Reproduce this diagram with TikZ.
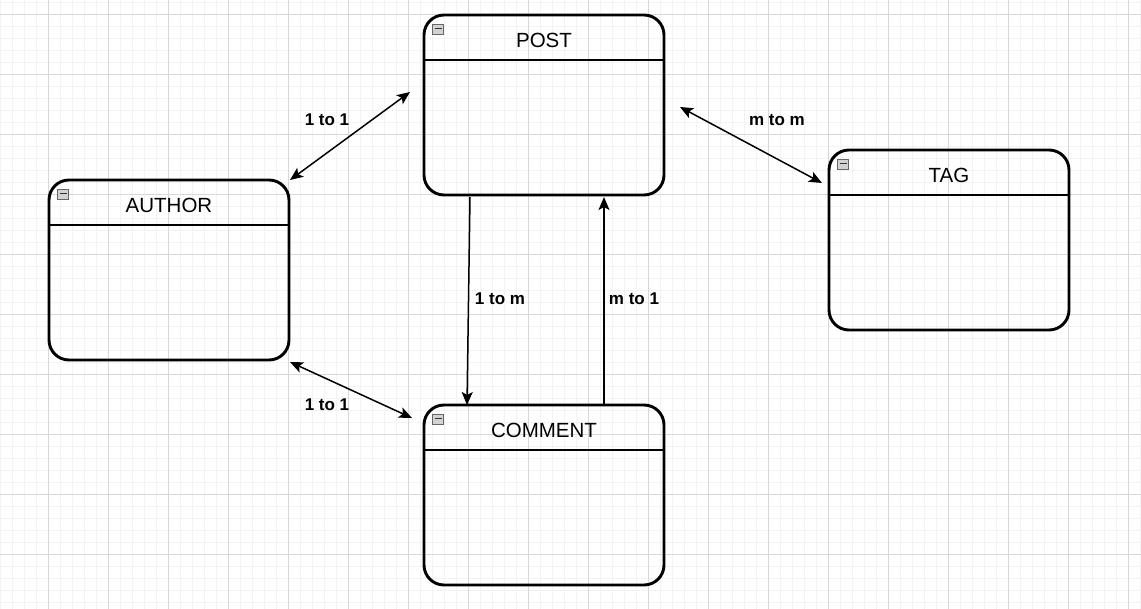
\documentclass[tikz,border=0pt]{standalone}
\usepackage{fontspec}
\setmainfont{Liberation Sans}
\usetikzlibrary{arrows.meta,calc}
\definecolor{minorgrid}{HTML}{F3F3F3}
\definecolor{majorgrid}{HTML}{D8D8D8}
\tikzset{
  entity/.style={draw=black, line width=2.9pt, rounded corners=20pt, minimum width=240pt, minimum height=180pt, inner sep=0pt, fill=none},
  ttl/.style={font=\fontsize{20.5}{24}\selectfont, inner sep=0pt, anchor=center},
  lbl/.style={font=\bfseries\fontsize{17}{20}\selectfont, inner sep=0pt, anchor=center},
  rel/.style={line width=1.5pt, draw=black},
  tip/.style={-{Stealth[length=13pt,width=11pt,inset=3pt]}},
  tips/.style={{Stealth[length=13pt,width=11pt,inset=3pt]}-{Stealth[length=13pt,width=11pt,inset=3pt]}},
  iconbox/.style={draw=gray!80!black, line width=0.7pt, fill=gray!35, minimum width=11pt, minimum height=10pt, inner sep=0pt},
}
\begin{document}
\begin{tikzpicture}[x=1pt,y=-1pt]
\useasboundingbox (0,0) rectangle (1141,609);
\fill[white] (0,0) rectangle (1141,609);
% grid
\foreach \i in {0,...,95} { \draw[minorgrid, line width=0.8pt] (\i*12,0) -- (\i*12,609); }
\foreach \j in {0,...,51} { \draw[minorgrid, line width=0.8pt] (0,2+\j*12) -- (1141,2+\j*12); }
\foreach \i in {0,...,18} { \draw[majorgrid, line width=0.9pt] (48+\i*60,0) -- (48+\i*60,609); }
\foreach \j in {0,...,10} { \draw[majorgrid, line width=0.9pt] (0,14+\j*60) -- (1141,14+\j*60); }

% entities
\node[entity] (post) at (544,105) {};
\node[entity] (author) at (169,270) {};
\node[entity] (tag) at (949,240) {};
\node[entity] (comment) at (544,495) {};

% header lines
\draw[line width=2.9pt] (424,60) -- (664,60);
\draw[line width=2.9pt] (49,225) -- (289,225);
\draw[line width=2.9pt] (829,195) -- (1069,195);
\draw[line width=2.9pt] (424,450) -- (664,450);

% titles
\node[ttl] (postt) at (544,40) {POST};
\node[ttl] (authort) at (169,205) {AUTHOR};
\node[ttl] (tagt) at (949,175) {TAG};
\node[ttl] (commentt) at (544,430) {COMMENT};

% icons
\foreach \n/\x/\y in {pi/438/29, ai/63/194, ti/843/164, ci/438/419} {
  \node[iconbox] (\n) at (\x,\y) {};
  \draw[line width=1pt, black!80] ($(\n.center)+(-3.5,0)$) -- ($(\n.center)+(3.5,0)$);
}

% relation anchors
\coordinate (ap1) at (290,180);
\coordinate (ap2) at (410,92);
\coordinate (ac1) at (290,362);
\coordinate (ac2) at (412,418);
\coordinate (pt1) at (680,107);
\coordinate (pt2) at (822,183);
\coordinate (pc1) at (470,197);
\coordinate (pc2) at (467,405);
\coordinate (cp1) at (604,405);
\coordinate (cp2) at (604,197);

\draw[rel, tips] (ap1) -- (ap2);
\draw[rel, tips] (ac1) -- (ac2);
\draw[rel, tips] (pt1) -- (pt2);
\draw[rel, tip] (pc1) -- (pc2);
\draw[rel, tip] (cp1) -- (cp2);

% labels
\node[lbl] (l1) at (327,120) {1 to 1};
\node[lbl] (l2) at (327,405) {1 to 1};
\node[lbl] (l3) at (777,120) {m to m};
\node[lbl] (l4) at (500,299) {1 to m};
\node[lbl] (l5) at (634,299) {m to 1};
\end{tikzpicture}
\end{document}
